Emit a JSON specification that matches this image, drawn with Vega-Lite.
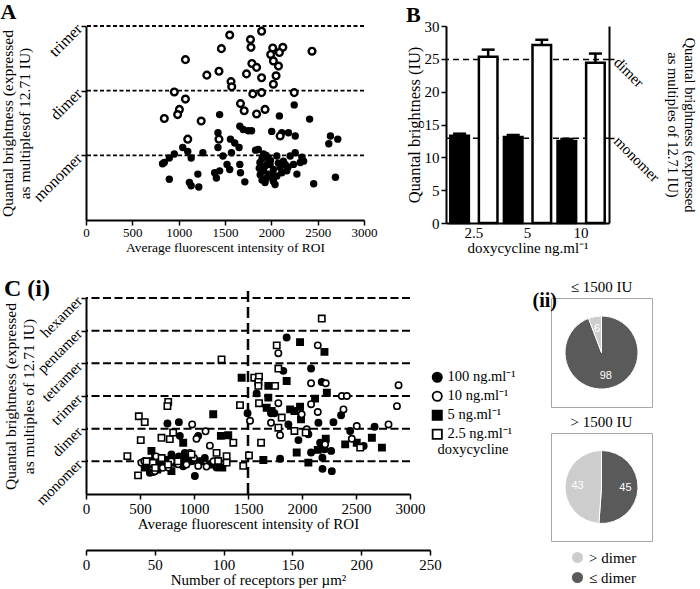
{
"$schema": "https://vega.github.io/schema/vega-lite/v6.json",
"padding": {"left": 0, "top": 1, "right": 0, "bottom": 0},
"config": {
 "font": "Liberation Serif",
 "view": {"stroke": null},
 "axis": {"domainColor": "black", "domainWidth": 2, "tickColor": "black", "tickWidth": 1.5, "tickSize": 5, "labelColor": "black", "titleColor": "black", "labelFontSize": 15, "titleFontSize": 15, "titleFontWeight": "normal", "grid": false, "labelPadding": 2, "titlePadding": 2, "labelFlush": false, "labelOverlap": false},
 "legend": {"labelFontSize": 15, "titleFontSize": 15, "titleFontWeight": "normal", "labelColor": "black", "titleColor": "black"},
 "title": {"fontSize": 22, "fontWeight": "bold", "color": "black", "anchor": "start", "frame": "bounds"}
},
"datasets": {
 "A": [
  {"x":1551,"y":2.86,"t":"o"},{"x":1461,"y":2.65,"t":"o"},{"x":1073,"y":2.48,"t":"o"},{"x":1304,"y":2.24,"t":"o"},{"x":1435,"y":2.30,"t":"o"},{"x":1565,"y":2.14,"t":"o"},{"x":1573,"y":2.06,"t":"o"},{"x":953,"y":1.98,"t":"o"},{"x":1073,"y":1.87,"t":"o"},{"x":1008,"y":1.71,"t":"o"},{"x":989,"y":1.63,"t":"o"},{"x":845,"y":1.57,"t":"o"},{"x":1243,"y":1.53,"t":"o"},{"x":1667,"y":1.80,"t":"o"},{"x":1707,"y":1.69,"t":"o"},{"x":1732,"y":2.26,"t":"o"},{"x":1775,"y":2.79,"t":"o"},{"x":1780,"y":2.67,"t":"o"},{"x":1790,"y":2.42,"t":"o"},{"x":1800,"y":1.95,"t":"o"},{"x":1098,"y":1.25,"t":"o"},{"x":1435,"y":1.25,"t":"o"},{"x":1895,"y":2.92,"t":"o"},{"x":2015,"y":2.66,"t":"o"},{"x":2124,"y":2.67,"t":"o"},{"x":1993,"y":2.56,"t":"o"},{"x":2087,"y":2.59,"t":"o"},{"x":2022,"y":2.46,"t":"o"},{"x":1841,"y":2.36,"t":"o"},{"x":2077,"y":2.38,"t":"o"},{"x":1895,"y":2.20,"t":"o"},{"x":2051,"y":2.23,"t":"o"},{"x":2022,"y":2.10,"t":"o"},{"x":2439,"y":2.61,"t":"o"},{"x":1895,"y":1.97,"t":"o"},{"x":2247,"y":1.97,"t":"o"},{"x":1841,"y":1.64,"t":"o"},{"x":1932,"y":1.71,"t":"o"},{"x":2095,"y":1.30,"t":"o"},
  {"x":1442,"y":1.63,"t":"f"},{"x":1424,"y":1.35,"t":"f"},{"x":1424,"y":1.12,"t":"f"},{"x":1044,"y":1.12,"t":"f"},{"x":1098,"y":1.06,"t":"f"},{"x":1135,"y":0.96,"t":"f"},{"x":953,"y":1.02,"t":"f"},{"x":899,"y":0.96,"t":"f"},{"x":845,"y":0.89,"t":"f"},{"x":1261,"y":1.04,"t":"f"},{"x":1478,"y":0.99,"t":"f"},{"x":1570,"y":1.04,"t":"f"},{"x":1559,"y":1.25,"t":"f"},{"x":1605,"y":1.19,"t":"f"},{"x":1652,"y":1.12,"t":"f"},{"x":1660,"y":1.45,"t":"f"},{"x":1696,"y":1.40,"t":"f"},{"x":1750,"y":1.38,"t":"f"},{"x":1522,"y":0.86,"t":"f"},{"x":1551,"y":0.78,"t":"f"},{"x":1388,"y":0.73,"t":"f"},{"x":1442,"y":0.76,"t":"f"},{"x":1407,"y":0.65,"t":"f"},{"x":1660,"y":0.86,"t":"f"},{"x":1667,"y":0.73,"t":"f"},{"x":899,"y":0.63,"t":"f"},{"x":1116,"y":0.58,"t":"f"},{"x":1207,"y":0.71,"t":"f"},{"x":1135,"y":0.53,"t":"f"},{"x":1217,"y":0.51,"t":"f"},{"x":1714,"y":0.59,"t":"f"},{"x":826,"y":0.87,"t":"f"},
  {"x":2247,"y":1.78,"t":"f"},{"x":2087,"y":1.61,"t":"f"},{"x":2413,"y":1.56,"t":"f"},{"x":1787,"y":1.38,"t":"f"},{"x":2004,"y":1.37,"t":"f"},{"x":2113,"y":1.35,"t":"f"},{"x":2185,"y":1.35,"t":"f"},{"x":2258,"y":1.30,"t":"f"},{"x":2638,"y":1.30,"t":"f"},{"x":2717,"y":1.25,"t":"f"},{"x":2620,"y":1.18,"t":"f"},{"x":1859,"y":1.09,"t":"f"},{"x":1916,"y":1.02,"t":"f"},{"x":1967,"y":0.96,"t":"f"},{"x":1877,"y":0.89,"t":"f"},{"x":1932,"y":0.83,"t":"f"},{"x":1986,"y":0.86,"t":"f"},{"x":2059,"y":0.99,"t":"f"},{"x":2130,"y":0.91,"t":"f"},{"x":2203,"y":0.99,"t":"f"},{"x":2258,"y":1.04,"t":"f"},{"x":2330,"y":0.97,"t":"f"},{"x":2348,"y":0.91,"t":"f"},{"x":1916,"y":0.76,"t":"f"},{"x":1967,"y":0.71,"t":"f"},{"x":2022,"y":0.78,"t":"f"},{"x":2095,"y":0.81,"t":"f"},{"x":2149,"y":0.86,"t":"f"},{"x":2167,"y":0.76,"t":"f"},{"x":2239,"y":0.86,"t":"f"},{"x":2276,"y":0.71,"t":"f"},{"x":1950,"y":0.65,"t":"f"},{"x":2022,"y":0.60,"t":"f"},{"x":2040,"y":0.55,"t":"f"},{"x":1932,"y":0.58,"t":"f"},{"x":2113,"y":0.73,"t":"f"},{"x":2312,"y":0.89,"t":"f"},{"x":2457,"y":0.56,"t":"f"},{"x":2692,"y":0.66,"t":"f"},{"x":1900,"y":0.95,"t":"f"},{"x":1880,"y":0.70,"t":"f"},{"x":1990,"y":0.92,"t":"f"},{"x":2060,"y":0.68,"t":"f"},{"x":1945,"y":1.00,"t":"f"},{"x":1870,"y":0.80,"t":"f"},{"x":2000,"y":0.68,"t":"f"},{"x":2180,"y":0.82,"t":"f"},{"x":1900,"y":0.62,"t":"f"},{"x":1960,"y":0.87,"t":"f"},{"x":2075,"y":0.88,"t":"f"},{"x":1830,"y":1.08,"t":"f"}
 ],
 "C": [
  {"x":860,"y":2.20,"d":"100"},{"x":754,"y":2.16,"d":"100"},{"x":1008,"y":0.55,"d":"100"},{"x":1858,"y":4.79,"d":"100"},{"x":2084,"y":3.84,"d":"100"},{"x":1827,"y":3.77,"d":"100"},{"x":1580,"y":3.08,"d":"100"},{"x":1496,"y":2.47,"d":"100"},{"x":1713,"y":2.47,"d":"100"},{"x":1744,"y":2.47,"d":"100"},{"x":1874,"y":2.13,"d":"100"},{"x":1967,"y":1.65,"d":"100"},{"x":2059,"y":1.83,"d":"100"},{"x":2152,"y":2.18,"d":"100"},{"x":1797,"y":1.08,"d":"100"},{"x":2190,"y":0.77,"d":"100"},{"x":2084,"y":1.27,"d":"100"},{"x":2168,"y":1.57,"d":"100"},{"x":2183,"y":3.43,"d":"100"},{"x":2362,"y":2.41,"d":"100"},{"x":2291,"y":2.20,"d":"100"},{"x":2672,"y":2.06,"d":"100"},{"x":2446,"y":1.93,"d":"100"},{"x":2571,"y":1.47,"d":"100"},{"x":2208,"y":1.37,"d":"100"},{"x":2270,"y":1.32,"d":"100"},{"x":2189,"y":1.11,"d":"100"},{"x":2276,"y":0.70,"d":"100"},{"x":869,"y":1.78,"d":"100"},{"x":699,"y":1.06,"d":"100"},{"x":791,"y":1.21,"d":"100"},{"x":1039,"y":1.78,"d":"100"},{"x":915,"y":1.26,"d":"100"},{"x":1209,"y":0.81,"d":"100"},{"x":591,"y":0.65,"d":"100"},{"x":600,"y":1.0,"d":"100"},{"x":680,"y":0.9,"d":"100"},{"x":740,"y":1.05,"d":"100"},{"x":820,"y":0.95,"d":"100"},{"x":900,"y":0.85,"d":"100"},{"x":980,"y":1.0,"d":"100"},{"x":1100,"y":1.1,"d":"100"},{"x":560,"y":0.85,"d":"100"},{"x":860,"y":1.15,"d":"100"},
  {"x":1178,"y":2.44,"d":"5"},{"x":900,"y":1.57,"d":"5"},{"x":1982,"y":4.65,"d":"5"},{"x":1858,"y":3.46,"d":"5"},{"x":1441,"y":3.56,"d":"5"},{"x":1688,"y":3.31,"d":"5"},{"x":1688,"y":2.95,"d":"5"},{"x":2121,"y":2.92,"d":"5"},{"x":1673,"y":2.64,"d":"5"},{"x":1719,"y":2.54,"d":"5"},{"x":1890,"y":2.59,"d":"5"},{"x":1930,"y":2.54,"d":"5"},{"x":1982,"y":2.67,"d":"5"},{"x":1991,"y":2.29,"d":"5"},{"x":1249,"y":1.78,"d":"5"},{"x":1317,"y":1.80,"d":"5"},{"x":1951,"y":1.27,"d":"5"},{"x":2059,"y":0.96,"d":"5"},{"x":1642,"y":1.04,"d":"5"},{"x":2146,"y":1.35,"d":"5"},{"x":1262,"y":0.81,"d":"5"},{"x":2208,"y":4.35,"d":"5"},{"x":2230,"y":3.10,"d":"5"},{"x":2647,"y":1.72,"d":"5"},{"x":2740,"y":1.42,"d":"5"},{"x":2400,"y":1.52,"d":"5"},{"x":2507,"y":1.57,"d":"5"},{"x":2220,"y":1.69,"d":"5"},{"x":544,"y":0.81,"d":"5"},{"x":606,"y":1.32,"d":"5"},{"x":791,"y":0.70,"d":"5"},{"x":915,"y":1.11,"d":"5"},{"x":668,"y":1.01,"d":"5"},{"x":580,"y":0.9,"d":"5"},{"x":640,"y":1.1,"d":"5"},{"x":720,"y":0.85,"d":"5"},{"x":800,"y":1.0,"d":"5"},{"x":880,"y":0.95,"d":"5"},{"x":950,"y":1.05,"d":"5"},{"x":1060,"y":1.0,"d":"5"},{"x":1150,"y":0.9,"d":"5"},{"x":660,"y":0.75,"d":"5"},
  {"x":983,"y":2.13,"d":"10"},{"x":1107,"y":1.92,"d":"10"},{"x":1023,"y":1.69,"d":"10"},{"x":1147,"y":1.48,"d":"10"},{"x":1039,"y":0.86,"d":"10"},{"x":1116,"y":0.84,"d":"10"},{"x":622,"y":0.67,"d":"10"},{"x":2146,"y":4.55,"d":"10"},{"x":1781,"y":4.31,"d":"10"},{"x":2084,"y":3.39,"d":"10"},{"x":1781,"y":2.78,"d":"10"},{"x":2084,"y":2.75,"d":"10"},{"x":2146,"y":2.51,"d":"10"},{"x":1997,"y":2.44,"d":"10"},{"x":1519,"y":2.24,"d":"10"},{"x":1713,"y":2.18,"d":"10"},{"x":1797,"y":1.80,"d":"10"},{"x":2044,"y":1.98,"d":"10"},{"x":2220,"y":3.39,"d":"10"},{"x":2369,"y":3.00,"d":"10"},{"x":2415,"y":3.00,"d":"10"},{"x":2384,"y":2.59,"d":"10"},{"x":2894,"y":3.33,"d":"10"},{"x":2879,"y":2.69,"d":"10"},{"x":2801,"y":2.13,"d":"10"},{"x":2507,"y":2.08,"d":"10"},{"x":2461,"y":1.69,"d":"10"},{"x":2214,"y":1.52,"d":"10"},{"x":513,"y":0.96,"d":"10"},{"x":637,"y":0.70,"d":"10"},{"x":962,"y":1.26,"d":"10"},{"x":853,"y":0.91,"d":"10"},{"x":761,"y":0.81,"d":"10"},{"x":540,"y":1.0,"d":"10"},{"x":650,"y":1.15,"d":"10"},{"x":710,"y":0.8,"d":"10"},{"x":790,"y":1.0,"d":"10"},{"x":930,"y":0.9,"d":"10"},{"x":1000,"y":1.1,"d":"10"},{"x":1180,"y":1.0,"d":"10"},
  {"x":761,"y":2.82,"d":"2.5"},{"x":754,"y":2.69,"d":"2.5"},{"x":489,"y":2.38,"d":"2.5"},{"x":544,"y":2.20,"d":"2.5"},{"x":507,"y":1.65,"d":"2.5"},{"x":699,"y":1.72,"d":"2.5"},{"x":776,"y":1.68,"d":"2.5"},{"x":807,"y":1.88,"d":"2.5"},{"x":383,"y":1.16,"d":"2.5"},{"x":482,"y":0.57,"d":"2.5"},{"x":1209,"y":1.26,"d":"2.5"},{"x":1255,"y":4.12,"d":"2.5"},{"x":2183,"y":5.37,"d":"2.5"},{"x":1766,"y":4.55,"d":"2.5"},{"x":1781,"y":3.84,"d":"2.5"},{"x":1558,"y":3.56,"d":"2.5"},{"x":1602,"y":3.59,"d":"2.5"},{"x":1596,"y":3.43,"d":"2.5"},{"x":1596,"y":3.31,"d":"2.5"},{"x":1751,"y":3.31,"d":"2.5"},{"x":1426,"y":2.72,"d":"2.5"},{"x":1602,"y":2.78,"d":"2.5"},{"x":1812,"y":2.34,"d":"2.5"},{"x":1781,"y":2.03,"d":"2.5"},{"x":1930,"y":1.93,"d":"2.5"},{"x":1364,"y":1.57,"d":"2.5"},{"x":1621,"y":1.57,"d":"2.5"},{"x":1302,"y":1.16,"d":"2.5"},{"x":1509,"y":1.18,"d":"2.5"},{"x":1456,"y":0.86,"d":"2.5"},{"x":2034,"y":1.88,"d":"2.5"},{"x":2539,"y":1.42,"d":"2.5"},{"x":977,"y":1.21,"d":"2.5"},{"x":1302,"y":0.96,"d":"2.5"},{"x":1224,"y":1.01,"d":"2.5"},{"x":560,"y":1.0,"d":"2.5"},{"x":620,"y":0.95,"d":"2.5"},{"x":700,"y":1.1,"d":"2.5"},{"x":850,"y":1.0,"d":"2.5"},{"x":760,"y":0.9,"d":"2.5"},{"x":640,"y":0.8,"d":"2.5"}
 ],
 "B": [
  {"dose": "2.5", "g": "a", "v": 13.3, "hi": 13.6}, {"dose": "2.5", "g": "b", "v": 25.3, "hi": 26.4},
  {"dose": "5", "g": "a", "v": 13.1, "hi": 13.4}, {"dose": "5", "g": "b", "v": 27.1, "hi": 27.9},
  {"dose": "10", "g": "a", "v": 12.5, "hi": 12.8}, {"dose": "10", "g": "b", "v": 24.4, "hi": 25.8}
 ]
},
"resolve": {"scale": {"fill": "independent", "shape": "independent", "color": "independent", "stroke": "independent"}, "legend": {"fill": "independent", "shape": "independent", "color": "independent", "stroke": "independent"}},
"spacing": 21,
"vconcat": [
 {
  "bounds": "flush",
  "spacing": 82,
  "resolve": {"scale": {"fill": "independent", "shape": "independent", "color": "independent", "stroke": "independent"}, "legend": {"fill": "independent", "shape": "independent", "color": "independent", "stroke": "independent"}},
  "hconcat": [
   {
    "width": 278, "height": 194,
    "title": {"text": "A", "offset": -4},
    "layer": [
     {"data": {"values": [{"y": 1}, {"y": 2}, {"y": 3}]},
      "mark": {"type": "rule", "strokeDash": [4, 2.5], "strokeWidth": 1.8, "color": "black"},
      "encoding": {"y": {"field": "y", "type": "quantitative", "scale": {"domain": [0, 3], "nice": false},
        "axis": {"values": [1, 2, 3], "labelOverlap": false, "labelExpr": "datum.value == 1 ? 'monomer' : datum.value == 2 ? 'dimer' : 'trimer'", "labelAngle": -45, "labelAlign": "right", "labelBaseline": "middle", "labelFontSize": 16, "titleFontSize": 15.5, "titlePadding": -3, "title": ["Quantal brightness (expressed", "as multiplesof 12.71 IU)"]}}}},
     {"data": {"name": "A"}, "transform": [{"filter": "datum.t == 'f'"}],
      "mark": {"type": "circle", "color": "black", "size": 55, "opacity": 1},
      "encoding": {"x": {"field": "x", "type": "quantitative", "scale": {"domain": [0, 3000], "nice": false}, "axis": {"values": [0, 500, 1000, 1500, 2000, 2500, 3000], "format": "d", "labelFontSize": 13, "titleFontSize": 13.5, "labelPadding": 1, "titlePadding": 1, "title": "Average fluorescent intensity of ROI"}},
        "y": {"field": "y", "type": "quantitative"}}},
     {"data": {"name": "A"}, "transform": [{"filter": "datum.t == 'o'"}],
      "mark": {"type": "point", "shape": "circle", "filled": false, "fill": "white", "stroke": "black", "strokeWidth": 2.4, "size": 45, "opacity": 1},
      "encoding": {"x": {"field": "x", "type": "quantitative"}, "y": {"field": "y", "type": "quantitative"}}}
    ]
   },
   {
    "width": 163, "height": 197,
    "title": {"text": "B", "offset": -8},
    "resolve": {"axis": {"y": "independent"}},
    "layer": [
     {"data": {"values": [{"v": 12.9}, {"v": 24.9}]},
      "mark": {"type": "rule", "strokeDash": [6, 4], "strokeWidth": 1.5, "color": "black"},
      "encoding": {"y": {"field": "v", "type": "quantitative", "scale": {"domain": [0, 30], "nice": false},
        "axis": {"orient": "right", "values": [12.9, 24.9], "labelExpr": "datum.value < 20 ? 'monomer' : 'dimer'", "labelAngle": 45, "labelAlign": "left", "labelBaseline": "middle", "titleFontSize": 14.5, "titlePadding": 3, "title": ["Quantal brightness (expressed", "as multiples of 12.71 IU)"], "titleAngle": 90}}}},
     {"data": {"name": "B"},
      "mark": {"type": "bar", "stroke": "black", "strokeWidth": 2.5},
      "encoding": {
       "x": {"field": "dose", "type": "nominal", "sort": ["2.5", "5", "10"], "scale": {"paddingInner": 0.12, "paddingOuter": 0.08}, "axis": {"labelAngle": 0, "ticks": false, "labelPadding": 2, "titlePadding": 0, "title": "doxycycline ng.ml⁻¹"}},
       "xOffset": {"field": "g", "type": "nominal", "scale": {"paddingInner": 0.35, "paddingOuter": 0}},
       "y": {"field": "v", "type": "quantitative", "scale": {"domain": [0, 30], "nice": false}, "axis": {"orient": "left", "values": [0, 5, 10, 15, 20, 25, 30], "titleFontSize": 16.5, "title": "Quantal brightness (IU)"}},
       "fill": {"field": "g", "type": "nominal", "scale": {"domain": ["a", "b"], "range": ["black", "white"]}, "legend": null}}},
     {"data": {"name": "B"},
      "mark": {"type": "rule", "strokeWidth": 2.5, "color": "black"},
      "encoding": {
       "x": {"field": "dose", "type": "nominal", "sort": ["2.5", "5", "10"]},
       "xOffset": {"field": "g", "type": "nominal"},
       "y": {"field": "v", "type": "quantitative", "axis": null}, "y2": {"field": "hi"}}},
     {"data": {"name": "B"},
      "mark": {"type": "tick", "thickness": 2.5, "size": 13, "color": "black", "opacity": 1},
      "encoding": {
       "x": {"field": "dose", "type": "nominal", "sort": ["2.5", "5", "10"]},
       "xOffset": {"field": "g", "type": "nominal"},
       "y": {"field": "hi", "type": "quantitative", "axis": null}}}
    ]
   }
  ]
 },
 {
  "bounds": "flush",
  "spacing": 141,
  "resolve": {"scale": {"fill": "independent", "shape": "independent", "color": "independent", "stroke": "independent"}, "legend": {"fill": "independent", "shape": "independent", "color": "independent", "stroke": "independent"}},
  "hconcat": [
   {
    "width": 324, "height": 196,
    "title": {"text": "C (i)", "fontSize": 24, "offset": -12},
    "resolve": {"scale": {"x": "independent"}},
    "layer": [
     {"layer": [
       {"data": {"values": [{"y": 1}, {"y": 2}, {"y": 3}, {"y": 4}, {"y": 5}, {"y": 6}]},
        "mark": {"type": "rule", "strokeDash": [8, 3.5], "strokeWidth": 2, "color": "black"},
        "encoding": {"y": {"field": "y", "type": "quantitative", "scale": {"domain": [0, 6], "nice": false},
          "axis": {"values": [1, 2, 3, 4, 5, 6], "labelOverlap": false, "labelBound": false, "labelExpr": "['', 'monomer', 'dimer', 'trimer', 'tetramer', 'pentamer', 'hexamer'][datum.value]", "labelAngle": -45, "labelAlign": "right", "labelBaseline": "middle", "titleFontSize": 15.5, "titlePadding": -3, "title": ["Quantal brightness (expressed", "as multiples of 12.71 IU)"]}}}},
       {"data": {"values": [{"x": 1500, "y": 0, "y2": 6.25}]},
        "mark": {"type": "rule", "strokeDash": [11, 5], "strokeWidth": 2.5, "color": "black"},
        "encoding": {"x": {"field": "x", "type": "quantitative", "scale": {"domain": [0, 3000], "nice": false}},
          "y": {"field": "y", "type": "quantitative", "scale": {"domain": [0, 6], "nice": false},
           "axis": {"values": [1, 2, 3, 4, 5, 6], "labelOverlap": false, "labelBound": false, "labelExpr": "['', 'monomer', 'dimer', 'trimer', 'tetramer', 'pentamer', 'hexamer'][datum.value]", "labelAngle": -45, "labelAlign": "right", "labelBaseline": "middle", "titleFontSize": 15.5, "titlePadding": -3, "title": ["Quantal brightness (expressed", "as multiples of 12.71 IU)"]}}, "y2": {"field": "y2"}}},
       {"data": {"name": "C"},
        "mark": {"type": "point", "filled": true, "strokeWidth": 1.6, "size": 40, "opacity": 1},
        "encoding": {
         "x": {"field": "x", "type": "quantitative", "scale": {"domain": [0, 3000], "nice": false}, "axis": {"values": [0, 500, 1000, 1500, 2000, 2500, 3000], "format": "d", "titlePadding": 0, "title": "Average fluorescent intensity of ROI"}},
         "y": {"field": "y", "type": "quantitative", "scale": {"domain": [0, 6], "nice": false},
           "axis": {"values": [1, 2, 3, 4, 5, 6], "labelOverlap": false, "labelBound": false, "labelExpr": "['', 'monomer', 'dimer', 'trimer', 'tetramer', 'pentamer', 'hexamer'][datum.value]", "labelAngle": -45, "labelAlign": "right", "labelBaseline": "middle", "titleFontSize": 15.5, "titlePadding": -3, "title": ["Quantal brightness (expressed", "as multiples of 12.71 IU)"]}},
         "fill": {"field": "d", "type": "nominal", "scale": {"domain": ["100", "10", "5", "2.5"], "range": ["black", "white", "black", "white"]},
           "legend": {"orient": "none", "legendX": 344, "legendY": 72, "title": "doxycycline", "titleOrient": "bottom", "titleAnchor": "middle", "titleFontSize": 14.5, "labelFontSize": 14.5, "symbolSize": 85, "symbolStrokeWidth": 1.8, "rowPadding": 2, "labelOffset": 3, "titlePadding": 1, "labelExpr": "datum.label + ' ng.ml⁻¹'"}},
         "stroke": {"field": "d", "type": "nominal", "scale": {"domain": ["100", "10", "5", "2.5"], "range": ["black", "black", "black", "black"]},
           "legend": {"orient": "none", "legendX": 344, "legendY": 72, "title": "doxycycline", "titleOrient": "bottom", "titleAnchor": "middle", "titleFontSize": 14.5, "labelFontSize": 14.5, "symbolSize": 85, "symbolStrokeWidth": 1.8, "rowPadding": 2, "labelOffset": 3, "titlePadding": 1, "labelExpr": "datum.label + ' ng.ml⁻¹'"}},
         "shape": {"field": "d", "type": "nominal", "scale": {"domain": ["100", "10", "5", "2.5"], "range": ["circle", "circle", "square", "square"]},
           "legend": {"orient": "none", "legendX": 344, "legendY": 72, "title": "doxycycline", "titleOrient": "bottom", "titleAnchor": "middle", "titleFontSize": 14.5, "labelFontSize": 14.5, "symbolSize": 85, "symbolStrokeWidth": 1.8, "rowPadding": 2, "labelOffset": 3, "titlePadding": 1, "labelExpr": "datum.label + ' ng.ml⁻¹'"}}}}
     ]},
     {"data": {"values": [{"r": 0}, {"r": 250}]},
      "mark": {"type": "point", "opacity": 0},
      "encoding": {"x": {"field": "r", "type": "quantitative", "scale": {"domain": [0, 250], "range": [0, 344], "nice": false},
        "axis": {"orient": "bottom", "offset": 56, "values": [0, 50, 100, 150, 200, 250], "titlePadding": 0, "title": "Number of receptors per µm²"}}}}
    ]
   },
   {
    "bounds": "flush",
    "spacing": 26,
    "title": {"text": "(ii)", "fontSize": 20, "dx": -18, "dy": 35},
    "resolve": {"scale": {"color": "independent"}, "legend": {"color": "independent"}},
    "vconcat": [
     {"width": 101, "height": 109,
      "view": {"stroke": "#a6a6a6", "strokeWidth": 1},
      "title": {"text": "≤ 1500 IU", "anchor": "middle", "frame": "group", "fontSize": 15, "fontWeight": "normal", "offset": 3},
      "data": {"values": [{"c": "≤ dimer", "n": 98, "o": 1}, {"c": "> dimer", "n": 6, "o": 2}]},
      "layer": [
       {"mark": {"type": "arc", "outerRadius": 36.5, "stroke": "white", "strokeWidth": 1},
        "encoding": {"theta": {"field": "n", "type": "quantitative", "stack": true}, "order": {"field": "o", "type": "quantitative"},
         "color": {"field": "c", "type": "nominal", "scale": {"domain": ["> dimer", "≤ dimer"], "range": ["#cdcdcd", "#5a5a5a"]}, "legend": null}}},
       {"mark": {"type": "text", "radius": 24, "font": "Liberation Sans", "fontSize": 11, "color": "white"},
        "encoding": {"theta": {"field": "n", "type": "quantitative", "stack": true}, "order": {"field": "o", "type": "quantitative"}, "text": {"field": "n", "type": "quantitative"}}}
      ]},
     {"width": 101, "height": 108,
      "view": {"stroke": "#a6a6a6", "strokeWidth": 1},
      "title": {"text": "> 1500 IU", "anchor": "middle", "frame": "group", "fontSize": 15, "fontWeight": "normal", "offset": 3},
      "data": {"values": [{"c": "≤ dimer", "n": 45, "o": 1}, {"c": "> dimer", "n": 43, "o": 2}]},
      "layer": [
       {"mark": {"type": "arc", "outerRadius": 36.5, "stroke": "white", "strokeWidth": 1},
        "encoding": {"theta": {"field": "n", "type": "quantitative", "stack": true}, "order": {"field": "o", "type": "quantitative"},
         "color": {"field": "c", "type": "nominal", "scale": {"domain": ["> dimer", "≤ dimer"], "range": ["#cdcdcd", "#5a5a5a"]},
          "legend": {"orient": "none", "legendX": 19, "legendY": 117, "title": null, "symbolType": "circle", "symbolSize": 160, "labelFontSize": 15, "rowPadding": 1, "labelOffset": 4}}}},
       {"mark": {"type": "text", "radius": 24, "font": "Liberation Sans", "fontSize": 11, "color": "white"},
        "encoding": {"theta": {"field": "n", "type": "quantitative", "stack": true}, "order": {"field": "o", "type": "quantitative"}, "text": {"field": "n", "type": "quantitative"}}}
      ]}
    ]
   }
  ]
 }
]
}
